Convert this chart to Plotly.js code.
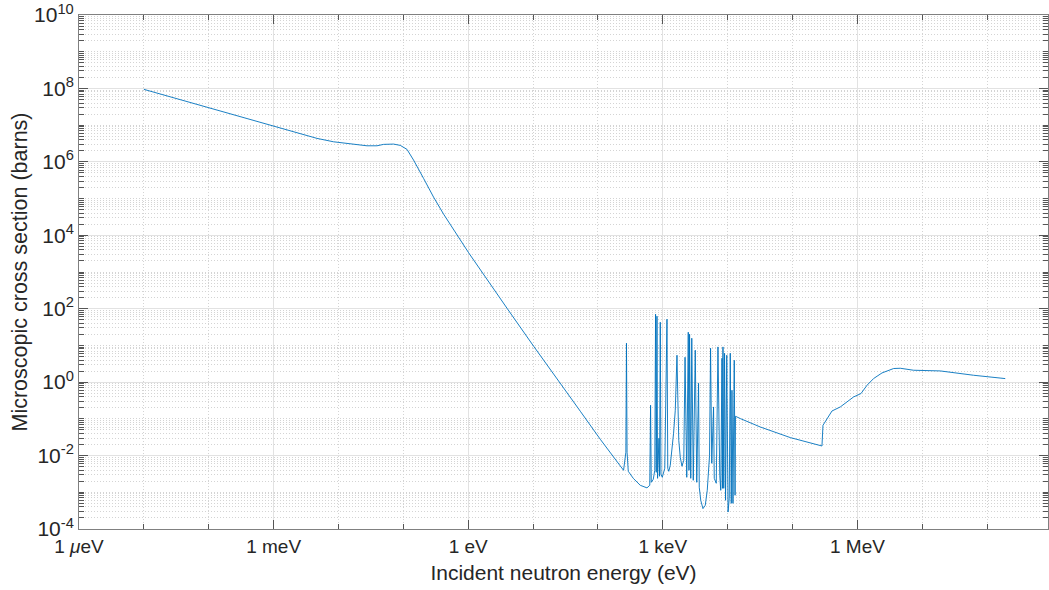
<!DOCTYPE html>
<html>
<head>
<meta charset="utf-8">
<script src="https://cdn.plot.ly/plotly-3.0.1.min.js"></script>
<style>html,body{margin:0;padding:0;background:#fff;}#chart{width:1049px;height:590px;}</style>
</head>
<body>
<div id="chart"></div>
<script>
// Incident neutron energy (eV)
const energy_eV = [
  1e-5, 1e-4, 1e-3, 2.578e-3, 4.664e-3, 8.40e-3, 1.521e-2, 2.751e-2, 3.924e-2, 4.958e-2,
  7.07e-2, 8.97e-2, 0.1138, 0.1438, 0.2051, 0.2924, 0.4173, 0.632, 1.013, 3.963,
  10.19, 53.5, 108.6,
  248.3, 269.5, 275.3, 281.2, 293.5, 350.5, 449.2, 570.0, 629.3,
  647.5, 663.7, 712.8, 751.6, 773.2, 792.7, 812.7, 830.1, 872.4, 891.3,
  913.7, 936.6, 980.8, 1072, 1159, 1193, 1236, 1303, 1384, 1465,
  1556, 1612, 1653, 1700, 1762, 1858, 1974, 2104, 2203, 2340,
  2469, 2531, 2585, 2697, 2795, 2948, 3164, 3337, 3557, 3647,
  3846, 4158, 4512, 4844, 5072, 5256, 5446, 5683, 6058, 6211,
  6668, 7082, 7550, 7823, 8164, 8300, 8459, 8702, 8952, 9275,
  9679, 10135, 10576, 10957, 11354, 11640, 12060, 12628, 12993, 13180,
  15620, 31770, 92260, 284100, 294400, 405500, 544500, 873000, 1.135e6, 1.406e6,
  1.775e6, 2.393e6, 3.614e6, 4.581e6, 7.345e6, 1.892e7, 6.18e7, 1.90e8
];
// Microscopic cross section (barns)
const sigma_barns = [
  9.44e7, 2.98e7, 9.03e6, 5.71e6, 4.36e6, 3.52e6, 3.05e6, 2.74e6, 2.74e6, 2.99e6,
  3.05e6, 2.81e6, 2.19e6, 1.117e6, 3.54e5, 1.096e5, 3.77e4, 1.218e4, 3.365e3, 103,
  9.52, 0.161, 0.0278,
  0.00397, 0.0123, 11.49, 0.0123, 0.00373, 0.00240, 0.00155, 0.00132, 0.00155,
  0.2348, 0.00187, 0.00226, 0.00397, 70.9, 0.00350, 62.6, 0.00240, 0.0296, 0.00273,
  42.9, 0.00309, 0.00256, 0.00450, 51.8, 0.00450, 0.00373, 0.00544, 0.0139, 0.0405,
  0.1715, 1.127, 5.41, 0.4396, 0.0261, 0.00898, 0.00511, 0.00744, 4.77, 0.00256,
  22.9, 0.00397, 20.2, 0.00240, 15.7, 0.00212, 7.41, 0.00187, 0.933, 0.00137,
  0.000604, 0.000359, 0.000442, 0.00113, 0.00397, 0.0102, 8.40, 0.00616, 0.211, 0.00240,
  0.00176, 9.11, 0.0029, 0.00113, 4.48, 0.00128, 9.11, 0.00128, 6.13, 0.000604,
  5.41, 0.00029, 0.000685, 6.13, 0.0005, 0.602, 0.0005, 3.95, 0.000827, 0.1177,
  0.102, 0.0601, 0.0309, 0.01824, 0.0668, 0.164, 0.211, 0.395, 0.489, 0.822,
  1.253, 1.782, 2.35, 2.39, 2.11, 2.02, 1.54, 1.25
];

const xTickVals = [1e-6, 1e-3, 1, 1e3, 1e6];
const xTickText = ['1 <i>μ</i>eV', '1 meV', '1 eV', '1 keV', '1 MeV'];
const xMinorVals = [1e-5, 1e-4, 1e-2, 1e-1, 10, 100, 1e4, 1e5, 1e7, 1e8];
const yTickExps = [-4, -2, 0, 2, 4, 6, 8, 10];
const yTickVals = yTickExps.map(e => Math.pow(10, e));
const yTickText = yTickExps.map(e => '10<sup>' + e + '</sup>');

const yMinorVals = [];
for (let n = -4; n < 10; n++) {
  for (let k = 1; k <= 9; k++) {
    if (k === 1 && n % 2 === 0) continue;
    yMinorVals.push(k * Math.pow(10, n));
  }
}

const textColor = '#262626';
const font = {family: '"Liberation Sans", Arial, Helvetica, sans-serif', color: textColor};

const trace = {
  x: energy_eV,
  y: sigma_barns,
  type: 'scatter',
  mode: 'lines',
  line: {color: '#0072BD', width: 0.9},
  hoverinfo: 'x+y'
};

const layout = {
  width: 1049,
  height: 590,
  margin: {l: 79, r: 1, t: 15, b: 61, pad: 0},
  paper_bgcolor: '#ffffff',
  plot_bgcolor: '#ffffff',
  showlegend: false,
  font: Object.assign({size: 18}, font),
  xaxis: {
    type: 'log',
    range: [-6, 8.938],
    autorange: false,
    tickmode: 'array',
    tickvals: xTickVals,
    ticktext: xTickText,
    ticks: 'inside',
    ticklen: 9,
    tickwidth: 1,
    tickcolor: '#555555',
    showline: true,
    linecolor: '#808080',
    linewidth: 1,
    mirror: 'allticks',
    showgrid: true,
    gridcolor: '#e2e2e2',
    gridwidth: 1,
    zeroline: false,
    tickfont: Object.assign({size: 19}, font),
    minor: {
      tickmode: 'array',
      tickvals: xMinorVals,
      ticks: 'inside',
      ticklen: 5,
      tickcolor: '#555555',
      showgrid: true,
      gridcolor: '#d4d4d4',
      griddash: '1px,2px',
      gridwidth: 1
    },
    title: {text: 'Incident neutron energy (eV)', font: Object.assign({size: 21}, font), standoff: 9}
  },
  yaxis: {
    type: 'log',
    range: [-4, 10],
    autorange: false,
    tickmode: 'array',
    tickvals: yTickVals,
    ticktext: yTickText,
    ticks: 'inside',
    ticklen: 9,
    tickwidth: 1,
    tickcolor: '#555555',
    showline: true,
    linecolor: '#808080',
    linewidth: 1,
    mirror: 'allticks',
    showgrid: true,
    gridcolor: '#e2e2e2',
    gridwidth: 1,
    zeroline: false,
    tickfont: Object.assign({size: 21}, font),
    minor: {
      tickmode: 'array',
      tickvals: yMinorVals,
      ticks: 'inside',
      ticklen: 5,
      tickcolor: '#555555',
      showgrid: true,
      gridcolor: '#d4d4d4',
      griddash: '1px,2px',
      gridwidth: 1
    },
    title: {text: 'Microscopic cross section (barns)', font: Object.assign({size: 21.5}, font), standoff: 0}
  }
};

Plotly.newPlot('chart', [trace], layout, {displayModeBar: false, staticPlot: true});
</script>
</body>
</html>
